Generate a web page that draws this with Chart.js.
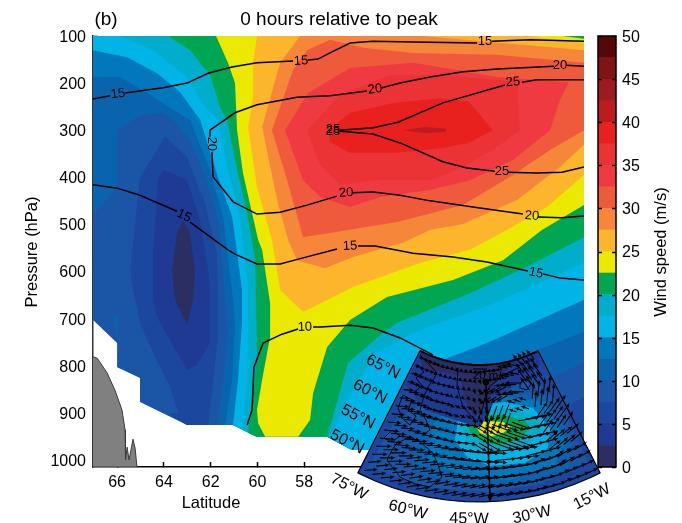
<!DOCTYPE html>
<html><head><meta charset="utf-8">
<script src="https://cdn.jsdelivr.net/npm/chart.js@4"></script>
<style>
html,body{margin:0;padding:0;background:#fff}
#w{position:relative;width:682px;height:523px;overflow:hidden}
canvas{position:absolute;left:0;top:0}
</style></head><body>
<div id="w"><canvas id="main" width="682" height="523"></canvas><canvas id="bar" width="682" height="523"></canvas><canvas id="inset" width="682" height="523"></canvas></div>
<script>
// ---------- data: wind-speed bands as [latitude, hPa] outlines ----------
const latTicks=[66,64,62,60,58];
const pressureTicks=[100,200,300,400,500,600,700,800,900,1000];
const speedTicks=[0,5,10,15,20,25,30,35,40,45,50];
const levelColors=['#2a2e63','#1f3a93','#1b479e','#1a55a6','#0a64ad','#0178bd','#00b4e8','#00aecb','#00a651','#ece900','#fdb62c','#f6863a','#f05a3c','#ef3a42','#eb3335','#e8211f','#bd1b22','#9e1a20','#7e1416','#560808'];
const levelStep=[2.5,2.5,2.5,2.5,2.5,2.5,2.5,2.5,2.5,2.5,2.5,2.5,2.5,2.5,2.5,2.5,2.5,2.5,2.5,2.5];

const bandBase=[[67.03,100],[67.03,703],[66,752],[66,803],[65.02,826],[65.02,877],[63.01,926],[61.04,926],[60.02,951],[57.02,951],[55.96,979],[46.04,979],[46.04,100]];
const band10=[[67.03,100],[67.03,480],[66,421],[66,300],[65.02,268],[64.03,263],[63.61,278],[62.88,321],[62.24,399],[61.68,491],[61.38,660],[61.26,731],[61.47,830],[61.73,926],[61.04,926],[60.02,951],[57.02,951],[55.96,979],[51.77,979],[49.2,894],[47.28,820],[46.04,794],[46.04,100]];
const band10b=[[66.17,697],[65.96,697],[65.96,745],[66.04,730]];
const band12=[[67.03,187],[65.87,187],[64.72,221],[63.73,253],[62.88,278],[62.03,384],[61.47,484],[61.04,660],[60.96,709],[61.08,830],[61.38,926],[61.04,926],[60.02,951],[57.02,951],[55.96,979],[53.05,979],[50.49,873],[48.05,767],[46.04,728],[46.04,100],[67.03,100]];
const band15=[[67.03,130],[65.57,145],[64.29,179],[63.31,219],[62.45,278],[61.68,401],[61.08,484],[60.96,527],[60.66,639],[60.66,709],[60.83,830],[61.04,926],[60.02,951],[57.02,951],[55.96,979],[53.9,979],[52.62,830],[51.9,784],[50.19,752],[46.04,660],[46.04,100],[67.03,100]];
const band17=[[65.87,100],[64.46,130],[63.01,187],[62.32,246],[61.68,278],[61.26,384],[60.74,484],[60.4,639],[60.4,709],[60.44,837],[60.66,936],[60.02,951],[56.9,951],[56.04,862],[54.97,773],[53.05,724],[50.06,671],[46.04,582],[46.04,100]];
const band20=[[63.82,100],[62.88,130],[62.03,183],[61.6,251],[61.3,278],[60.87,384],[60.44,476],[60.1,576],[60.06,660],[60.02,781],[60.23,873],[60.4,943],[60.02,951],[57.02,951],[56.13,794],[54.85,739],[54.03,709],[50.91,646],[48.48,590],[46.04,527],[46.04,100]];
const band22=[[61.77,100],[61.26,157],[60.96,200],[60.87,300],[60.62,391],[59.97,533],[59.8,554],[59.46,667],[59.46,739],[59.8,830],[60.02,894],[59.97,922],[59.67,951],[58.26,951],[57.75,915],[57.62,858],[57.02,760],[56.04,703],[54.46,654],[51.64,618],[49.5,576],[47.84,512],[46.04,459],[46.04,106],[46.94,100]];
const band25=[[60.02,100],[60.19,157],[60.19,230],[60.4,293],[60.02,421],[59.38,533],[59.03,639],[58.05,686],[55.91,633],[53.05,582],[50.91,554],[49.33,512],[47.62,463],[46.04,395],[46.04,115],[48.48,100]];
const band27=[[58.18,100],[59.03,157],[59.8,293],[59.16,448],[58.69,533],[58.31,576],[57.11,593],[55.91,569],[53.78,539],[52.62,512],[51.21,499],[48.9,448],[47.07,378],[46.04,331],[46.04,130],[52.92,100]];
const band30=[[56.9,108],[57.88,130],[58.48,172],[59.38,300],[58.73,406],[58.05,527],[56.9,518],[54.03,495],[51.21,459],[49.2,399],[47.49,342],[46.04,300],[46.04,157],[49.76,140],[53.35,136],[55.49,125]];
const band32=[[58.82,300],[58.05,406],[57.32,442],[56.04,463],[54.76,442],[52.62,427],[50.91,406],[49.07,363],[47.49,300],[47.07,236],[46.68,198],[49.76,187],[51.47,172],[53.35,157],[56.04,168],[57.84,221]];
const band35=[[57.88,300],[57.32,374],[56.47,416],[55.06,406],[52.62,406],[51.21,378],[49.93,342],[48.78,300],[48.9,198],[50.61,189],[52.19,183],[54.33,183],[56.47,225]];
const band37=[[56.98,300],[56.04,263],[54.2,242],[52.19,232],[50.96,240],[49.93,300],[51,327],[52.07,338],[54.03,348],[56.04,348],[56.9,325]];
const band40=[[53.78,300],[52.84,293],[51.9,297],[51.98,304],[52.84,306]];
const low7=[[63.95,314],[65.02,401],[65.44,597],[65.32,639],[65.02,709],[64.46,773],[63.73,845],[63.39,900],[63.82,902],[63.01,926],[62.11,926],[61.9,837],[61.68,739],[61.68,639],[61.73,561],[62.24,455],[63.01,357]];
const low5=[[64.03,384],[64.25,406],[64.46,561],[64.46,660],[64.29,697],[63.01,809],[62.58,798],[62.03,752],[62.03,639],[62.11,597],[62.45,491],[63.01,406]];
const low2=[[63.18,491],[63.44,518],[63.65,601],[63.52,660],[63.01,714],[62.75,660],[62.67,601],[62.88,518]];
const low7right=[[46.04,866],[46.64,883],[47.92,936],[46.04,979]];
const terrain=[[67.03,781],[66.85,784],[66.43,815],[66.09,852],[65.79,894],[65.66,936],[65.64,1000],[65.57,973],[65.49,1000],[65.32,956],[65.23,975],[65.15,1015],[67.03,1015]];

// ---------- data: black contour lines (null = gap under a label) ----------
const contour15top=[[67.03,234],[66.3,227],null,[65.66,221],[64.03,210],[63.01,200],[62.11,179],[61.09,166],[60.02,157],[58.48,153],null,[57.84,151],[57.41,149],[56.9,136],[56.04,115],[55.06,111],[53.35,113],[50.61,115],null,[49.97,111],[48.35,108],[46.04,111]];
const contour20top=[[46.04,164],[46.81,162],null,[47.32,164],[49.76,170],[51.21,176],[52.62,187],[53.9,200],[54.68,210],null,[55.32,217],[56.9,227],[58.31,230],[60.02,246],[60.96,263],[62.03,300],[62.03,314],null,[61.94,346],[61.9,399],[61.04,452],[60.02,478],[59.03,474],[57.88,459],[56.6,440],null,[55.96,433],[55.06,431],[53.9,438],[52.62,450],[50.49,465],[48.65,478],null,[48.01,484],[47,486],[46.04,482]];
const contour25up=[[56.47,300],[55.06,295],[53.99,283],[52.07,242],[49.42,204],null,[48.69,198],[48.05,193],[46.04,193]];
const contour25low=[[56.47,302],[55.06,308],[53.9,327],[52.07,367],[51.04,380],[49.85,387],null,[49.29,389],[48.05,391],[46.98,389],[46.04,378]];
const contour15low=[[67.03,416],[66,423],[65.02,438],[63.44,472],null,[62.88,495],[61.26,554],[60.96,563],[60.02,584],[59.03,584],[58.05,571],[56.6,552],null,[55.7,546],[54.97,546],[53.35,561],[51.64,569],[50.19,580],[48.44,599],null,[47.79,605],[47.07,614],[46.04,618]];
const contour10=[[60.44,926],[60.23,894],[60.15,803],[59.76,752],[58.95,733],[58.26,722],null,[57.62,718],[57.32,718],[56.04,714],[55.06,720],[53.9,741],[52.5,777]];
const contourLabels=[['15',65.96,223,-7],['15',58.14,153,-3],['15',50.27,111,0],['20',47.07,162,0],['20',54.97,213,-7],['20',61.94,329,90],['20',56.21,433,-5],['20',48.26,482,4],['25',56.77,298,0],['25',56.77,302,0],['25',49.08,198,-5],['25',49.55,387,0],['15',63.14,482,25],['15',56.04,546,-3],['15',48.09,603,12],['10',57.97,718,-3]];

// ---------- data: inset map, in map-plane units ----------
const mapApex=[479,235], mapInner=130, mapOuter=267;
const mapArcAngles=[-27,-23,-19,-15,-11,-7,-3,1,5,9,13,17,21,25,27];
const ringRadii=[136,145,154,163,172,181,190,199,208,217,226,235,244,253,262];
const ringAngles=[-26,-24,-22,-20,-18,-16,-14,-12,-10,-8,-6,-4,-2,0,2,4,6,8,10,12,14,16,18,20,22,24];
const windDir=[
 [20,30,40,60,170,-170,-130],
 [10,20,45,70,150,180,-125],
 [5,10,30,70,110,-160,-85],
 [5,5,10,30,20,-10,-55],
 [5,0,0,5,-5,-15,-40],
 [0,-5,-5,-8,-12,-20,-32],
 [-5,-8,-10,-12,-15,-20,-27]];
const windLen=[
 [4,3,3,3,6,9,11],
 [6,4,2,4,11,15,14],
 [9,7,5,7,15,7,15],
 [12,11,11,16,19,20,15],
 [14,14,16,19,20,19,14],
 [14,14,16,18,18,17,13],
 [12,13,14,15,16,14,12]];
const mapPatch3=[[368,468],[395,420],[440,392],[490,385],[540,382],[565,412],[588,462],[540,484],[490,492],[430,488]];
const mapPatch4=[[410,470],[420,430],[445,402],[500,392],[548,396],[572,440],[568,470],[520,484],[465,484]];
const mapPatch5=[[428,462],[432,425],[452,405],[500,396],[545,402],[565,440],[555,465],[510,480],[470,478]];
const mapPatch6=[[455,440],[458,420],[472,406],[505,402],[533,408],[550,428],[548,448],[525,463],[490,466],[468,458]];
const mapPatch7=[[460,426],[476,410],[510,408],[537,417],[542,430],[527,447],[495,453],[470,447]];
const mapPatch8=[[468,423],[480,416],[503,415],[525,421],[530,427],[519,440],[497,445],[480,440],[470,432]];
const mapPatch9=[[475,425],[487,421],[503,422],[511,427],[503,433],[490,437],[480,433]];
const mapPatchDark1=[[420,352],[406,385],[425,410],[455,420],[480,428],[495,400],[515,385],[540,365],[538,350],[510,362],[480,365],[450,361]];
const mapPatchDark0=[[419,352],[450,361],[480,365],[510,362],[520,358],[495,381],[490,400],[475,417],[465,400],[460,376],[445,373],[430,370],[422,365]];
const coastLines=[[458,368],[457,387],[463,407],[477,422],[483,407],[486,393],[490,386],[507,373],[520,367],null,
 [420,355],[427,362],[437,373],[433,380],[428,387],[424,396],[420,410],[426,420],[430,430],[424,434],null,
 [410,437],[420,442],[433,453],[438,465],[442,477],[436,482],[430,487],[415,484],[400,477],[393,468],[387,460],[392,450],[397,443],[410,437],null,
 [403,395],[412,400],[408,410],[416,416],[410,425],[402,418],[398,408],[403,395],null,
 [520,383],[526,379],[531,384],[527,390],[520,388],[520,383],null,
 [392,430],[400,436],[392,442],[384,438],[392,430],null,
 [418,365],[424,372],[416,378],[422,386],[414,392]];
const mapMeridian=[[486,382],[490,498]];
const mapScaleBar=[[473,369],[487,369]];
const mapLabels=[['65°N',383,367,27],['60°N',370,392,27],['55°N',358,417,27],['50°N',347,442,27],['75°W',349,487,28],['60°W',408,510,14],['45°W',469,519,1],['30°W',532,515,-12],['15°W',592,497,-27]];

// ---------- helpers ----------
const FONT='"Liberation Sans", Arial, sans-serif';
Chart.defaults.font.family=FONT; Chart.defaults.color='#000';
const toPts=a=>a.map(p=>p?{x:p[0],y:p[1]}:{x:null,y:null});
let ordN=0;
const poly=(a,color,border)=>({data:toPts(a),showLine:true,fill:'shape',backgroundColor:color,borderColor:border||'rgba(0,0,0,0)',borderWidth:border?1:0,pointRadius:0,order:1000-(ordN++),spanGaps:false,tension:0});
const line=(a,w)=>({data:toPts(a),showLine:true,fill:false,borderColor:'#000',borderWidth:w,pointRadius:0,order:1000-(ordN++),spanGaps:false,tension:0});
function text(ctx,s,x,y,rot,font){ctx.save();ctx.translate(x,y);ctx.rotate((rot||0)*Math.PI/180);ctx.font=font;ctx.fillStyle='#000';ctx.textAlign='center';ctx.textBaseline='middle';ctx.fillText(s,0,0);ctx.restore();}
const base={responsive:false,animation:false,events:[],plugins:{legend:{display:false},tooltip:{enabled:false}}};

// ---------- main section ----------
const c=levelColors;
new Chart(document.getElementById('main'),{type:'scatter',
 data:{datasets:[poly(bandBase,c[3]),poly(band10,c[4]),poly(band10b,c[4]),poly(band12,c[5]),poly(band15,c[6]),poly(band17,c[7]),poly(band20,c[8]),poly(band22,c[9]),poly(band25,c[10]),poly(band27,c[11]),poly(band30,c[12]),poly(band32,c[13]),poly(band35,c[14]),poly(band37,c[15]),poly(band40,c[16]),poly(low7,c[2]),poly(low5,c[1]),poly(low2,c[0]),poly(low7right,c[2]),poly(terrain,'#808080','#3a3a3a'),
  line(contour15top,1.5),line(contour20top,1.5),line(contour25up,1.5),line(contour25low,1.5),line(contour15low,1.5),line(contour10,1.5)]},
 options:{...base,layout:{padding:{top:36,right:98}},
  scales:{
   x:{type:'linear',min:46.04,max:67.03,reverse:true,afterBuildTicks:s=>{s.ticks=latTicks.map(v=>({value:v}));},afterFit:s=>{s.height=56;},
      grid:{drawOnChartArea:false,tickLength:-5,tickColor:'#000',tickWidth:1.5},border:{color:'#000',width:1.5},ticks:{padding:11,maxRotation:0,font:{size:16},color:'#000',callback:v=>String(v)}},
   y:{type:'linear',min:100,max:1015,reverse:true,afterBuildTicks:s=>{s.ticks=pressureTicks.map(v=>({value:v}));},afterFit:s=>{s.width=93;},
      grid:{drawOnChartArea:false,tickLength:-5,tickColor:'#000',tickWidth:1.5},border:{color:'#333',width:1.5},ticks:{padding:12,labelOffset:1.5,font:{size:16},color:'#000',callback:v=>String(v)}}
  }},
 plugins:[{id:'labels',afterDraw(ch){const ctx=ch.ctx,xs=ch.scales.x,ys=ch.scales.y;
   contourLabels.forEach(l=>text(ctx,l[0],xs.getPixelForValue(l[1]),ys.getPixelForValue(l[2]),l[3],'13px '+FONT));
   text(ctx,'(b)',106,20,0,'19px '+FONT);
   text(ctx,'0 hours relative to peak',339,20,0,'19px '+FONT);
   text(ctx,'Latitude',211,503,0,'16.5px '+FONT);
   text(ctx,'Pressure (hPa)',32,252,-90,'16.5px '+FONT);
 }}]});

// ---------- colour bar ----------
new Chart(document.getElementById('bar'),{type:'bar',
 data:{labels:['Wind speed'],datasets:levelStep.map((v,i)=>({data:[v],backgroundColor:levelColors[i],borderWidth:0,barPercentage:1,categoryPercentage:1,stack:'s'}))},
 options:{...base,layout:{padding:{left:598,top:36,bottom:56}},
  scales:{x:{display:false,stacked:true},
   y:{position:'right',min:0,max:50,stacked:true,afterBuildTicks:s=>{s.ticks=speedTicks.map(v=>({value:v}));},afterFit:s=>{s.width=66;},
      grid:{display:false,drawTicks:false},border:{display:false},ticks:{padding:6,labelOffset:1.5,font:{size:16},color:'#000'}}}},
 plugins:[{id:'frame',afterDraw(ch){const ctx=ch.ctx,a=ch.chartArea,y=ch.scales.y;ctx.save();ctx.strokeStyle='#000';ctx.lineWidth=1.5;ctx.strokeRect(a.left,a.top,a.right-a.left,a.bottom-a.top);
   speedTicks.forEach(v=>{const p=Math.round(y.getPixelForValue(v))+.5;ctx.beginPath();ctx.moveTo(a.left,p);ctx.lineTo(a.left+4,p);ctx.moveTo(a.right-4,p);ctx.lineTo(a.right,p);ctx.stroke();});ctx.restore();
   text(ctx,'Wind speed (m/s)',661,252,-90,'16.5px '+FONT);
 }}]});

// ---------- inset map ----------
const rad=d=>d*Math.PI/180;
const polar=(r,t)=>[mapApex[0]+r*Math.sin(rad(t)),mapApex[1]+r*Math.cos(rad(t))];
const wedge=[...mapArcAngles.map(t=>polar(mapOuter,t)),...mapArcAngles.slice().reverse().map(t=>polar(mapInner,t))];
const arcTop=mapArcAngles.map(t=>polar(mapInner,t));
const arcBottom=mapArcAngles.map(t=>polar(mapOuter,t));
const edges=[polar(mapInner,-27),polar(mapOuter,-27),null,polar(mapInner,27),polar(mapOuter,27)];
const arrows=[];
const colEdges=[-18,-10,-3,4,11,18];
ringRadii.forEach(r=>ringAngles.forEach(t=>{
  const row=Math.min(6,Math.floor((r-130)/20));let col=0;while(col<6&&t>=colEdges[col])col++;
  const d=rad(windDir[row][col]),L=windLen[row][col],[x,y]=polar(r,t);
  const tx=x+L*Math.cos(d),ty=y+L*Math.sin(d);
  arrows.push([x,y],[tx,ty],[tx-3*Math.cos(d-.5),ty-3*Math.sin(d-.5)],null,[tx,ty],[tx-3*Math.cos(d+.5),ty-3*Math.sin(d+.5)],null);
}));
const head=[[490,502],[487,495],[493,495]];
new Chart(document.getElementById('inset'),{type:'scatter',
 data:{datasets:[poly(wedge,c[2]),poly(mapPatch3,c[3]),poly(mapPatch4,c[4]),poly(mapPatch5,c[5]),poly(mapPatch6,c[6]),poly(mapPatch7,c[7]),poly(mapPatch8,c[8]),poly(mapPatch9,c[9]),poly(mapPatchDark1,c[1]),poly(mapPatchDark0,c[0]),
   line(arrows,1.1),line(coastLines,0.9),line(arcTop,2),line(arcBottom,1.2),line(edges,1.2),line(mapMeridian,1.5),line(mapScaleBar,1),poly(head,'#000')]},
 options:{...base,layout:{padding:0},scales:{x:{type:'linear',display:false,min:0,max:682},y:{type:'linear',display:false,min:0,max:523,reverse:true}}},
 plugins:[{id:'mapText',afterDraw(ch){const ctx=ch.ctx,xs=ch.scales.x,ys=ch.scales.y;
   mapLabels.forEach(l=>text(ctx,l[0],xs.getPixelForValue(l[1]),ys.getPixelForValue(l[2]),l[3],'16px '+FONT));
   text(ctx,'20 m/s',490,376,0,'11.5px '+FONT);
   ctx.save();ctx.fillStyle='#000';ctx.beginPath();ctx.arc(xs.getPixelForValue(486),ys.getPixelForValue(382),3.2,0,7);ctx.fill();ctx.restore();
 }}]});
</script></body></html>
